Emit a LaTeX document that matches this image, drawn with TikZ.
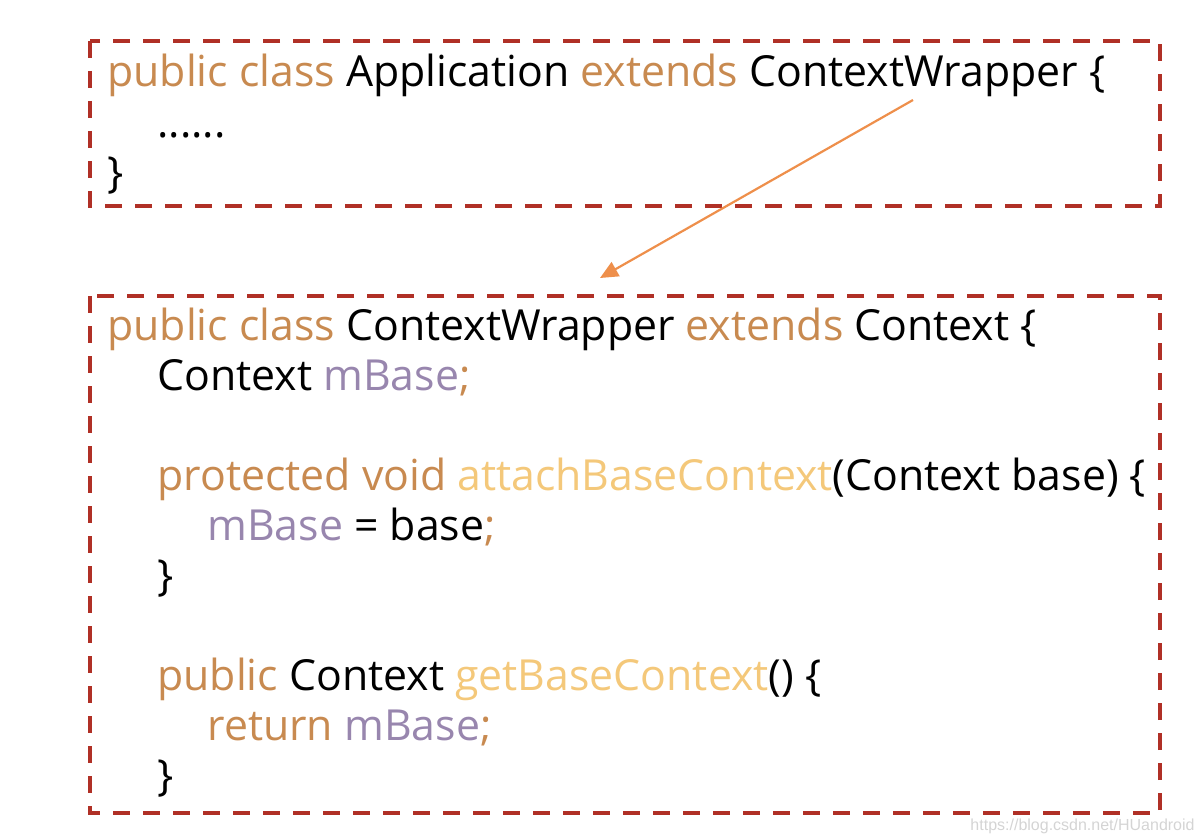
\documentclass[tikz,border=0pt]{standalone}
\usepackage{fontspec}
\setmainfont{Open Sans}
\newfontfamily\markfont{Liberation Sans}
\usetikzlibrary{arrows.meta}
\definecolor{boxred}{RGB}{176,48,38}
\definecolor{kwbrown}{RGB}{200,138,80}
\definecolor{fnyellow}{RGB}{244,200,122}
\definecolor{fldpurple}{RGB}{152,134,174}
\definecolor{arrorange}{RGB}{238,143,75}
\newcommand{\kw}[1]{\textcolor{kwbrown}{#1}}
\newcommand{\fn}[1]{\textcolor{fnyellow}{#1}}
\newcommand{\fld}[1]{\textcolor{fldpurple}{#1}}
\begin{document}
\begin{tikzpicture}[x=0.5pt,y=-0.5pt,
    code/.style={anchor=base west,inner sep=0pt,font=\fontsize{21.4}{25}\selectfont},
    codebox/.style={draw=boxred,line width=2.2pt,dash pattern=on 8.5pt off 6.5pt},
    link/.style={draw=arrorange,line width=1.1pt,-{Triangle[length=9pt,width=8pt]}}]
  \useasboundingbox (0,0) rectangle (1204,840);
  % Application
  \draw[codebox] (90,41) rectangle (1160,206);
  \node[code] (app) at (107,87) {\kw{public class} Application \kw{extends} ContextWrapper \{};
  \node[code] (dots) at (157,137) {......};
  \node[code] (append) at (107,187) {\}};
  % ContextWrapper
  \draw[codebox] (90,296) rectangle (1160,813);
  \node[code] (cw) at (107,340) {\kw{public class} ContextWrapper \kw{extends} Context \{};
  \node[code] (base) at (157,390) {Context \fld{mBase}\kw{;}};
  \node[code] (attach) at (157,490) {\kw{protected void} \fn{attachBaseContext}(Context base) \{};
  \node[code] (assign) at (207,540) {\fld{mBase} = base\kw{;}};
  \node[code] (attachend) at (157,590) {\}};
  \node[code] (getter) at (157,690) {\kw{public} Context \fn{getBaseContext}() \{};
  \node[code] (ret) at (207,740) {\kw{return} \fld{mBase}\kw{;}};
  \node[code] (getend) at (157,790) {\}};
  % arrow
  \coordinate (src) at (913,100);
  \coordinate (dst) at (600,278);
  \draw[link] (src) -- (dst);
  \node[anchor=base east,inner sep=0pt,text=black!17,font=\markfont\fontsize{8}{10}\selectfont] (mark) at (1195,830) {https://blog.csdn.net/HUandroid};
\end{tikzpicture}
\end{document}
